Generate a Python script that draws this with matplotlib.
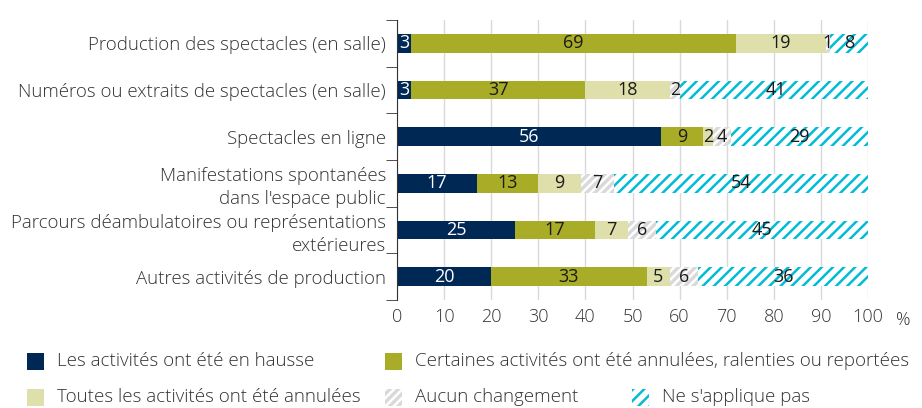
import matplotlib.pyplot as plt
import matplotlib.patches as mpatches
import numpy as np

plt.rcParams['font.family'] = ['Open Sans', 'DejaVu Sans']
plt.rcParams['font.weight'] = 'light'
plt.rcParams['hatch.linewidth'] = 1.8

categories = [
    "Production des spectacles (en salle)",
    "Numéros ou extraits de spectacles (en salle)",
    "Spectacles en ligne",
    "Manifestations spontanées\ndans l'espace public",
    "Parcours déambulatoires ou représentations\nextérieures",
    "Autres activités de production",
]
series_names = [
    "Les activités ont été en hausse",
    "Certaines activités ont été annulées, ralenties ou reportées",
    "Toutes les activités ont été annulées",
    "Aucun changement",
    "Ne s'applique pas",
]
hausse = [3, 3, 56, 17, 25, 20]
certaines = [69, 37, 9, 13, 17, 33]
toutes = [19, 18, 2, 9, 7, 5]
aucun = [1, 2, 4, 7, 6, 6]
ne_sapplique = [8, 41, 29, 54, 45, 36]

series = [hausse, certaines, toutes, aucun, ne_sapplique]
face = ['#002855', '#a9ac26', '#dedfaa', '#d9d9d9', 'white']
edge = ['#002855', '#a9ac26', '#dedfaa', 'white', '#00bcd4']
hatch = [None, None, None, '////', '///']
txtcol = ['white', '#1a1a1a', '#1a1a1a', '#1a1a1a', '#1a1a1a']
fs = 13

fig = plt.figure(figsize=(9.22, 4.08), dpi=100)
ax = fig.add_axes([397 / 922, 1 - 300 / 408, 471 / 922, 280 / 408])

y = np.arange(len(categories))
left = np.zeros(len(categories))
for vals, fc, ec, h, tc in zip(series, face, edge, hatch, txtcol):
    vals = np.array(vals, dtype=float)
    ax.barh(y, vals, left=left, height=0.4, color=fc, edgecolor=ec,
            hatch=h, linewidth=0, zorder=2)
    for yi, l, v in zip(y, left, vals):
        ax.text(l + v / 2, yi, f"{int(v)}", ha='center', va='center',
                color=tc, fontsize=fs, fontweight='normal', zorder=3)
    left += vals

ax.set_xlim(0, 100)
ax.set_ylim(len(categories) - 0.5, -0.5)
ax.set_xticks(np.arange(0, 101, 10))
ax.tick_params(axis='x', length=0, labelsize=fs, pad=6, colors='#333333')
ax.set_yticks(y)
ax.set_yticklabels(categories, fontsize=13.4, ma='right', color='#333333',
                   linespacing=1.35)
ax.tick_params(axis='y', which='major', length=0, pad=8)
ax.set_yticks(np.arange(-0.5, len(categories) + 0.5, 1), minor=True)
ax.tick_params(axis='y', which='minor', length=8, color='#333333')
ax.grid(axis='x', color='#d9d9d9', linewidth=1, zorder=0)
for s in ['top', 'right', 'bottom']:
    ax.spines[s].set_visible(False)
ax.spines['left'].set_color('#333333')
fig.text(903 / 922, 1 - 320 / 408, '%', fontsize=fs, ha='center', va='center', color='#333333')

# legend drawn by hand to follow the irregular layout
legend_pos = [(27, 361), (385, 361), (27, 397), (385, 397), (632, 397)]
for (px, py), name, fc, ec, h in zip(legend_pos, series_names, face, edge, hatch):
    r = mpatches.Rectangle((px / 922, 1 - (py + 8.5) / 408), 17 / 922, 17 / 408,
                           transform=fig.transFigure, facecolor=fc, edgecolor=ec,
                           hatch=h, linewidth=0)
    fig.patches.append(r)
    fig.text((px + 30) / 922, 1 - py / 408, name, fontsize=13.5, va='center',
             color='#333333')

fig.savefig('out.png', dpi=100)
